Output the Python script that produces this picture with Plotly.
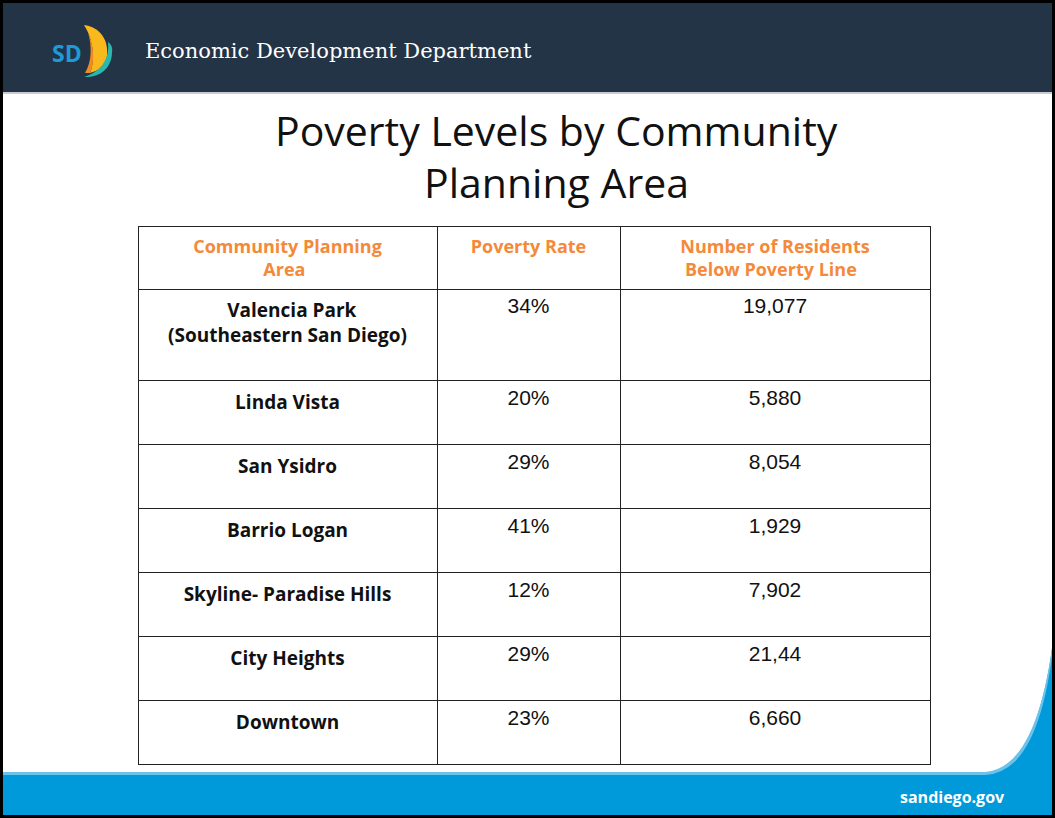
import plotly.graph_objects as go

# ---- data ----
header_lines = [["Community Planning", "Area"], ["Poverty Rate"], ["Number of Residents", "Below Poverty Line"]]
area_lines = [["Valencia Park", "(Southeastern San Diego)"], ["Linda Vista"], ["San Ysidro"], ["Barrio Logan"],
              ["Skyline- Paradise Hills"], ["City Heights"], ["Downtown"]]
poverty_rate = ["34%", "20%", "29%", "41%", "12%", "29%", "23%"]
residents_below = ["19,077", "5,880", "8,054", "1,929", "7,902", "21,44", "6,660"]

title_lines = ["Poverty Levels by Community", "Planning Area"]
dept_name = "Economic Development Department"
site_name = "sandiego.gov"

W, H = 1055, 818
NAVY = "#243447"
BLUE = "#0099D9"
ORANGE = "#F5893A"
NBSP = "\u00a0"


def centered_block(lines, extra_blank=False):
    """Plotly tables left-align the lines of a multi-line cell; pad shorter
    lines with non-breaking spaces so each line looks centred."""
    longest = max(len(s) for s in lines)
    out = []
    for s in lines:
        n = int(round((longest - len(s)) * 1.1))
        out.append("<b>" + NBSP * n + s + "</b>")
    txt = "<br>".join(out)
    if extra_blank:
        txt += "<br> "
    return txt


header_vals = [centered_block(l) for l in header_lines]
col1 = [centered_block(l, extra_blank=(len(l) > 1)) for l in area_lines]


def ty(y):
    return 1 - y / H


fig = go.Figure()
# invisible helper trace so the pixel-aligned axes exist for the decoration shapes
fig.add_trace(go.Scatter(x=[], y=[], hoverinfo="skip", showlegend=False))
fig.add_trace(go.Table(
    domain=dict(x=[138 / W, 930 / W], y=[ty(766), ty(226)]),
    columnwidth=[299, 183, 310],
    header=dict(
        values=header_vals,
        fill_color="white",
        line=dict(color="#222222", width=1),
        align="center",
        height=63,
        font=dict(family="Open Sans", size=18, color=ORANGE),
    ),
    cells=dict(
        values=[col1, poverty_rate, residents_below],
        fill_color="white",
        line=dict(color="#222222", width=1),
        align="center",
        height=64,
        font=dict(family=["Open Sans", "Liberation Sans", "Liberation Sans"], size=[19, 21, 21],
                  color="#111111"),
    ),
))

shapes = []
# header band
shapes.append(dict(type="rect", x0=0, x1=W, y0=0, y1=92, fillcolor=NAVY, line=dict(width=0), layer="below"))
shapes.append(dict(type="rect", x0=0, x1=W, y0=92, y1=94, fillcolor="#C9CDD2", line=dict(width=0), layer="below"))
# bottom band with curved right corner
shapes.append(dict(type="path",
                   path="M 880 773 L 985 773 Q 1040 769 1055 624 L 1055 818 L 0 818 L 0 773 Z",
                   fillcolor=BLUE, line=dict(width=0), layer="below"))
shapes.append(dict(type="path",
                   path="M 0 772 L 985 772 Q 1040 768 1055 623 L 1055 630 Q 1042 773 985 775 L 0 775 Z",
                   fillcolor="#6CC3EA", line=dict(width=0), layer="below"))
# logo sails
shapes.append(dict(type="path",
                   path="M 84 25 C 100 27 109 40 107 56 C 105 66 98 71 90 73 C 95 62 94 40 84 25 Z",
                   fillcolor="#F9B81B", line=dict(width=0)))
shapes.append(dict(type="path",
                   path="M 90 73 C 95 62 94 45 88 33 C 92 45 92 62 85 73 Z",
                   fillcolor="#EE8B25", line=dict(width=0)))
shapes.append(dict(type="path",
                   path="M 84 77 C 100 78 112 68 112 52 C 113 48 111 44 108 42 C 110 60 100 72 84 77 Z",
                   fillcolor="#28B8B0", line=dict(width=0)))
# frame
shapes.append(dict(type="rect", x0=1.5, x1=W - 1.5, y0=1.5, y1=H - 1.5,
                   line=dict(color="#000000", width=3), fillcolor="rgba(0,0,0,0)"))

annotations = [
    dict(x=67, y=53, text="<b>SD</b>", showarrow=False, xanchor="center", yanchor="middle",
         font=dict(family="Open Sans", size=23, color="#1E9BD7")),
    dict(x=143, y=51, text=dept_name, showarrow=False, xanchor="left", yanchor="middle",
         font=dict(family="DejaVu Serif", size=21, color="white")),
    dict(x=556, y=130, text=title_lines[0], showarrow=False, xanchor="center", yanchor="middle",
         font=dict(family="Open Sans", size=41, color="#111111")),
    dict(x=556, y=182, text=title_lines[1], showarrow=False, xanchor="center", yanchor="middle",
         font=dict(family="Open Sans", size=41, color="#111111")),
    dict(x=1007, y=797, text="<b>" + site_name + "</b>", showarrow=False, xanchor="right", yanchor="middle",
         font=dict(family="Open Sans", size=16, color="white")),
]

fig.update_layout(
    width=W, height=H,
    margin=dict(l=0, r=0, t=0, b=0),
    paper_bgcolor="white", plot_bgcolor="white",
    xaxis=dict(range=[0, W], visible=False, fixedrange=True),
    yaxis=dict(range=[H, 0], visible=False, fixedrange=True),
    shapes=shapes, annotations=annotations,
    showlegend=False,
)
fig.write_html("out.html", config={"displayModeBar": False},
               post_script="document.body.style.margin='0';")
